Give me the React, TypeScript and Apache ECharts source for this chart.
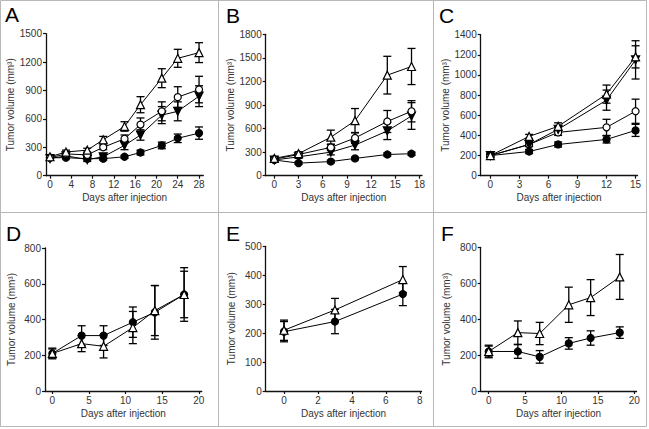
import React, { useEffect, useRef } from "react";
import * as echarts from "echarts";

// ---------- Data ----------
const daysA = [0, 3, 7, 10, 14, 17, 21, 24, 28];
const aOpenTri = [200, 250, 270, 380, 520, 750, 1030, 1240, 1300];
const aOpenTriErr = [15, 20, 20, 35, 50, 85, 100, 95, 105];
const aOpenCirc = [190, 230, 220, 300, 390, 540, 680, 830, 910];
const aOpenCircErr = [15, 15, 20, 25, 40, 70, 100, 110, 140];
const aDownTri = [180, 210, 170, 200, 320, 430, 640, 680, 840];
const aDownTriErr = [15, 15, 20, 20, 45, 55, 90, 100, 110];
const aFilledCirc = [190, 190, 180, 180, 200, 245, 320, 395, 450];
const aFilledCircErr = [10, 10, 15, 15, 15, 25, 35, 45, 65];

const daysB = [0, 3, 7, 10, 14, 17];
const bOpenTri = [220, 280, 490, 700, 1280, 1390];
const bOpenTriErr = [20, 25, 90, 155, 240, 230];
const bOpenCirc = [210, 270, 360, 480, 690, 820];
const bOpenCircErr = [20, 20, 40, 70, 140, 135];
const bDownTri = [200, 240, 300, 390, 570, 760];
const bDownTriErr = [15, 20, 35, 60, 110, 170];
const bFilledCirc = [200, 160, 180, 220, 270, 280];
const bFilledCircErr = [15, 15, 15, 15, 20, 20];

const daysC = [0, 4, 7, 12, 15];
const cOpenTri = [200, 390, 490, 810, 1180];
const cOpenTriErr = [15, 20, 35, 90, 110];
const cDownTri = [200, 310, 460, 750, 1150];
const cDownTriErr = [15, 20, 30, 100, 190];
const cOpenCirc = [200, 310, 430, 480, 640];
const cOpenCircErr = [15, 20, 30, 80, 120];
const cFilledCirc = [200, 240, 310, 360, 450];
const cFilledCircErr = [15, 20, 25, 35, 60];

const daysD = [0, 4, 7, 11, 14, 18];
const dFilledCirc = [210, 310, 310, 385, 440, 540];
const dFilledCircErr = [30, 55, 55, 85, 150, 150];
const dOpenTri = [210, 265, 250, 355, 450, 540];
const dOpenTriErr = [25, 45, 65, 90, 140, 130];

const daysE = [0, 3, 7];
const eOpenTri = [210, 280, 385];
const eOpenTriErr = [35, 40, 45];
const eFilledCirc = [205, 240, 335];
const eFilledCircErr = [35, 42, 40];

const daysF = [0, 4, 7, 11, 14, 18];
const fOpenTri = [220, 325, 320, 480, 520, 635];
const fOpenTriErr = [35, 65, 62, 98, 100, 125];
const fFilledCirc = [220, 220, 190, 265, 295, 325];
const fFilledCircErr = [30, 38, 35, 32, 40, 32];

const ticksA = [0, 4, 8, 12, 16, 20, 24, 28];
const ticksB = [0, 3, 6, 9, 12, 15, 18];
const ticksC = [0, 3, 6, 9, 12, 15];
const ticksDF = [0, 5, 10, 15, 20];
const ticksE = [0, 2, 4, 6, 8];

const xName = "Days after injection";
const yName = "Tumor volume (mm³)";

// ---------- Styles ----------
const FONT = "Liberation Sans, Arial, sans-serif";
const DOWN_TRI = "path://M0,0L10,0L5,9Z";

type Marker = "openTri" | "openCirc" | "downTri" | "filledCirc";

const markerStyle = (m: Marker) => {
  switch (m) {
    case "openTri":
      return { symbol: "triangle", size: 8, fill: "#fff" };
    case "openCirc":
      return { symbol: "circle", size: 7, fill: "#fff" };
    case "downTri":
      return { symbol: DOWN_TRI, size: 8, fill: "#000" };
    default:
      return { symbol: "circle", size: 7, fill: "#000" };
  }
};

interface SeriesDef {
  marker: Marker;
  mean: number[];
  err: number[];
}

interface PanelDef {
  letter: string;
  letterX: number;
  letterY: number;
  left: number;
  top: number;
  right: number;
  bottom: number;
  xMin: number;
  xMax: number;
  xTicks: number[];
  yMax: number;
  yInterval: number;
  days: number[];
  series: SeriesDef[];
}

const panels: PanelDef[] = [
  {
    letter: "A", letterX: 5, letterY: 4,
    left: 46, top: 33.7, right: 203.3, bottom: 175.7,
    xMin: -0.75, xMax: 28.8, xTicks: ticksA, yMax: 1500, yInterval: 300, days: daysA,
    series: [
      { marker: "filledCirc", mean: aFilledCirc, err: aFilledCircErr },
      { marker: "downTri", mean: aDownTri, err: aDownTriErr },
      { marker: "openCirc", mean: aOpenCirc, err: aOpenCircErr },
      { marker: "openTri", mean: aOpenTri, err: aOpenTriErr },
    ],
  },
  {
    letter: "B", letterX: 226, letterY: 5,
    left: 265.7, top: 34.3, right: 422, bottom: 175.7,
    xMin: -1.07, xMax: 18.3, xTicks: ticksB, yMax: 1800, yInterval: 300, days: daysB,
    series: [
      { marker: "filledCirc", mean: bFilledCirc, err: bFilledCircErr },
      { marker: "downTri", mean: bDownTri, err: bDownTriErr },
      { marker: "openCirc", mean: bOpenCirc, err: bOpenCircErr },
      { marker: "openTri", mean: bOpenTri, err: bOpenTriErr },
    ],
  },
  {
    letter: "C", letterX: 439, letterY: 5,
    left: 480.7, top: 34.7, right: 637.5, bottom: 175.7,
    xMin: -1.0, xMax: 15.2, xTicks: ticksC, yMax: 1400, yInterval: 200, days: daysC,
    series: [
      { marker: "filledCirc", mean: cFilledCirc, err: cFilledCircErr },
      { marker: "openCirc", mean: cOpenCirc, err: cOpenCircErr },
      { marker: "downTri", mean: cDownTri, err: cDownTriErr },
      { marker: "openTri", mean: cOpenTri, err: cOpenTriErr },
    ],
  },
  {
    letter: "D", letterX: 6, letterY: 223,
    left: 45, top: 248, right: 201.7, bottom: 391,
    xMin: -1.0, xMax: 20.4, xTicks: ticksDF, yMax: 800, yInterval: 200, days: daysD,
    series: [
      { marker: "filledCirc", mean: dFilledCirc, err: dFilledCircErr },
      { marker: "openTri", mean: dOpenTri, err: dOpenTriErr },
    ],
  },
  {
    letter: "E", letterX: 226, letterY: 223,
    left: 265.7, top: 246.3, right: 421.5, bottom: 391,
    xMin: -1.08, xMax: 8.1, xTicks: ticksE, yMax: 500, yInterval: 100, days: daysE,
    series: [
      { marker: "filledCirc", mean: eFilledCirc, err: eFilledCircErr },
      { marker: "openTri", mean: eOpenTri, err: eOpenTriErr },
    ],
  },
  {
    letter: "F", letterX: 441, letterY: 223,
    left: 480.7, top: 247.3, right: 636.5, bottom: 391,
    xMin: -1.1, xMax: 20.3, xTicks: ticksDF, yMax: 800, yInterval: 200, days: daysF,
    series: [
      { marker: "filledCirc", mean: fFilledCirc, err: fFilledCircErr },
      { marker: "openTri", mean: fOpenTri, err: fOpenTriErr },
    ],
  },
];

function buildOption() {
  const grid: any[] = [];
  const xAxis: any[] = [];
  const yAxis: any[] = [];
  const series: any[] = [];
  const graphic: any[] = [];

  const labelStyle = { color: "#333", fontSize: 10, fontFamily: FONT };
  const axisLine = { show: true, onZero: false, lineStyle: { color: "#111", width: 1.3 } };
  const plain = (v: number) => String(v);

  panels.forEach((p, i) => {
    grid.push({
      left: p.left,
      top: p.top,
      width: p.right - p.left,
      height: p.bottom - p.top,
      containLabel: false,
      outerBoundsMode: "none",
    });
    xAxis.push({
      type: "value",
      gridIndex: i,
      min: p.xMin,
      max: p.xMax,
      name: xName,
      nameLocation: "middle",
      nameGap: 17,
      nameTextStyle: { ...labelStyle },
      axisLine,
      axisTick: { show: true, inside: false, length: 3, lineStyle: { color: "#111", width: 1.2 }, customValues: p.xTicks },
      axisLabel: { ...labelStyle, margin: 4, customValues: p.xTicks, formatter: plain },
      splitLine: { show: false },
    });
    yAxis.push({
      type: "value",
      gridIndex: i,
      min: 0,
      max: p.yMax,
      interval: p.yInterval,
      name: yName,
      nameLocation: "middle",
      nameRotate: 90,
      nameGap: 29,
      nameTextStyle: { ...labelStyle },
      axisLine,
      axisTick: { show: true, inside: false, length: 3, lineStyle: { color: "#111", width: 1.2 } },
      axisLabel: { ...labelStyle, margin: 4, formatter: plain },
      splitLine: { show: false },
    });

    p.series.forEach((s) => {
      const ms = markerStyle(s.marker);
      series.push({
        type: "custom",
        xAxisIndex: i,
        yAxisIndex: i,
        clip: false,
        silent: true,
        z: 2,
        encode: { x: 0, y: [1, 2] },
        data: p.days.map((d, k) => [d, s.mean[k] - s.err[k], s.mean[k] + s.err[k]]),
        renderItem: (params: any, api: any) => {
          const x = api.value(0);
          const lo = api.coord([x, api.value(1)]);
          const hi = api.coord([x, api.value(2)]);
          const w = 4;
          const st = { stroke: "#000", lineWidth: 1.3 };
          return {
            type: "group",
            children: [
              { type: "line", shape: { x1: lo[0], y1: lo[1], x2: hi[0], y2: hi[1] }, style: st },
              { type: "line", shape: { x1: lo[0] - w, y1: lo[1], x2: lo[0] + w, y2: lo[1] }, style: st },
              { type: "line", shape: { x1: hi[0] - w, y1: hi[1], x2: hi[0] + w, y2: hi[1] }, style: st },
            ],
          };
        },
      });
      series.push({
        type: "line",
        xAxisIndex: i,
        yAxisIndex: i,
        z: 3,
        silent: true,
        data: p.days.map((d, k) => [d, s.mean[k]]),
        symbol: ms.symbol,
        symbolSize: ms.size,
        showAllSymbol: true,
        lineStyle: { color: "#000", width: 1 },
        itemStyle: { color: ms.fill, borderColor: "#000", borderWidth: 1.2 },
      });
    });

    graphic.push({
      type: "text",
      left: p.letterX,
      top: p.letterY,
      style: { text: p.letter, fontSize: 21, fontFamily: FONT, fill: "#000" },
    });
  });

  // Panel frame
  const frame = { stroke: "#b8b8b8", lineWidth: 1 };
  graphic.push(
    { type: "rect", shape: { x: 0.5, y: 0.5, width: 646, height: 426 }, style: { fill: "none", ...frame }, z: -1 },
    { type: "line", shape: { x1: 218.5, y1: 0.5, x2: 218.5, y2: 426.5 }, style: frame, z: -1 },
    { type: "line", shape: { x1: 433.5, y1: 0.5, x2: 433.5, y2: 426.5 }, style: frame, z: -1 },
    { type: "line", shape: { x1: 0.5, y1: 212.5, x2: 646.5, y2: 212.5 }, style: frame, z: -1 }
  );

  return {
    animation: false,
    backgroundColor: "#fff",
    grid,
    xAxis,
    yAxis,
    series,
    graphic,
  };
}

export default function App() {
  const ref = useRef<HTMLDivElement>(null);
  useEffect(() => {
    document.body.style.margin = "0";
    if (!ref.current) return;
    const chart = echarts.init(ref.current, undefined, { renderer: "svg" });
    chart.setOption(buildOption() as any);
    return () => chart.dispose();
  }, []);
  return <div ref={ref} style={{ width: 649, height: 429 }} />;
}
